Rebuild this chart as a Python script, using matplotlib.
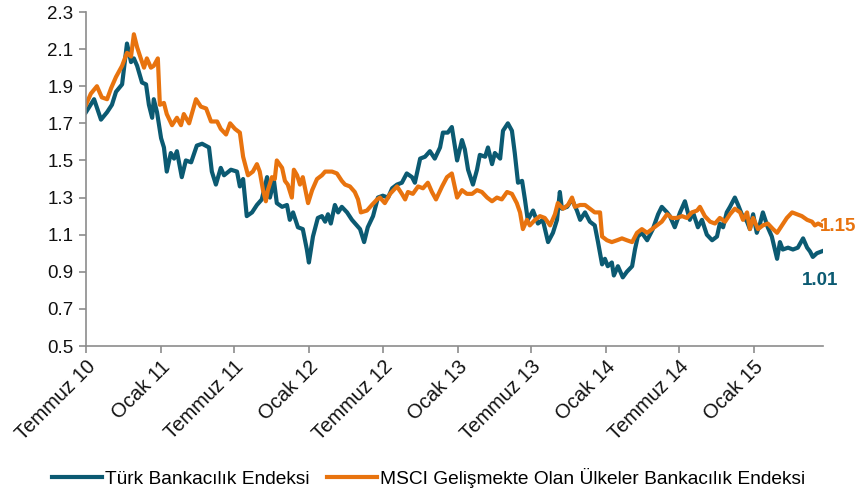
import pandas as pd
import matplotlib
matplotlib.use("Agg")
import matplotlib.pyplot as plt

plt.rcParams['font.family'] = ['Liberation Sans', 'DejaVu Sans']

# days counted from 1 July 2010, values are normalised index levels
start = pd.Timestamp('2010-07-01')

turk_days = [0, 20, 37, 52, 64, 74, 89, 101, 111, 118, 126, 138, 148, 155, 163, 167, 175,
             185, 192, 199, 209, 217, 224, 236, 246, 259, 273, 286, 303, 310, 320, 332, 340,
             357, 372, 379, 387, 396, 409, 421, 433, 446, 453, 463, 470, 483, 495, 502, 510,
             522, 534, 544, 549, 559, 571, 581, 589, 596, 603, 613, 621, 630, 643, 655, 667,
             675, 685, 694, 707, 719, 731, 744, 754, 766, 778, 790, 803, 810, 823, 835, 847,
             859, 872, 879, 891, 901, 914, 926, 933, 941, 953, 963, 970, 983, 990, 1000, 1007,
             1020, 1027, 1039, 1049, 1056, 1064, 1074, 1081, 1088, 1101, 1113, 1125, 1138,
             1150, 1160, 1167, 1172, 1185, 1197, 1209, 1217, 1229, 1241, 1253, 1261, 1271,
             1278, 1285, 1295, 1300, 1310, 1322, 1332, 1345, 1352, 1359, 1369, 1382, 1389,
             1396, 1409, 1418, 1431, 1438, 1450, 1463, 1475, 1487, 1495, 1507, 1517, 1529,
             1542, 1554, 1561, 1569, 1578, 1586, 1598, 1606, 1615, 1628, 1635, 1643, 1652,
             1660, 1667, 1679, 1689, 1702, 1709, 1716, 1729, 1741, 1753, 1766, 1776, 1783,
             1790, 1800, 1812]
turk_vals = [1.76, 1.83, 1.72, 1.76, 1.80, 1.87, 1.91, 2.13, 2.03, 2.05, 2.01, 1.92, 1.91,
             1.80, 1.73, 1.83, 1.76, 1.62, 1.57, 1.44, 1.54, 1.51, 1.55, 1.41, 1.50, 1.49,
             1.58, 1.59, 1.57, 1.44, 1.37, 1.46, 1.42, 1.45, 1.44, 1.36, 1.40, 1.20, 1.22,
             1.26, 1.29, 1.41, 1.30, 1.39, 1.27, 1.25, 1.26, 1.18, 1.22, 1.14, 1.13, 1.02,
             0.95, 1.09, 1.19, 1.20, 1.17, 1.21, 1.16, 1.26, 1.22, 1.25, 1.22, 1.18, 1.15,
             1.13, 1.06, 1.14, 1.20, 1.30, 1.31, 1.30, 1.35, 1.37, 1.38, 1.43, 1.41, 1.38,
             1.51, 1.52, 1.55, 1.51, 1.57, 1.65, 1.65, 1.68, 1.50, 1.61, 1.56, 1.45, 1.37,
             1.45, 1.53, 1.52, 1.57, 1.48, 1.54, 1.51, 1.66, 1.70, 1.66, 1.54, 1.38, 1.39,
             1.29, 1.18, 1.23, 1.16, 1.18, 1.06, 1.11, 1.18, 1.33, 1.24, 1.25, 1.29, 1.23,
             1.18, 1.22, 1.17, 1.15, 1.06, 0.94, 0.97, 0.93, 0.95, 0.88, 0.93, 0.87, 0.90,
             0.93, 1.02, 1.09, 1.11, 1.07, 1.10, 1.13, 1.21, 1.25, 1.22, 1.20, 1.14, 1.22,
             1.28, 1.18, 1.22, 1.14, 1.18, 1.10, 1.07, 1.09, 1.16, 1.14, 1.22, 1.25, 1.30,
             1.26, 1.21, 1.17, 1.13, 1.21, 1.11, 1.16, 1.22, 1.14, 1.09, 0.97, 1.06, 1.02,
             1.03, 1.02, 1.03, 1.08, 1.03, 1.01, 0.98, 1.00, 1.01]

msci_days = [0, 12, 27, 39, 52, 62, 74, 89, 101, 111, 118, 126, 135, 143, 150, 160, 167, 177,
             182, 192, 199, 212, 224, 234, 241, 254, 271, 283, 296, 308, 323, 332, 345, 355,
             367, 379, 387, 399, 411, 421, 428, 436, 443, 448, 458, 465, 470, 483, 490, 497,
             507, 512, 520, 527, 534, 547, 557, 569, 581, 589, 606, 618, 630, 638, 650, 662,
             670, 677, 692, 704, 717, 724, 736, 749, 766, 778, 786, 793, 805, 818, 830, 842,
             852, 862, 877, 889, 901, 914, 926, 938, 951, 963, 975, 988, 1000, 1012, 1024,
             1037, 1049, 1061, 1069, 1076, 1086, 1093, 1106, 1118, 1130, 1143, 1155, 1162,
             1175, 1187, 1197, 1204, 1217, 1229, 1241, 1253, 1266, 1271, 1283, 1295, 1308,
             1320, 1332, 1345, 1357, 1369, 1382, 1394, 1406, 1418, 1431, 1443, 1455, 1468,
             1480, 1492, 1505, 1512, 1524, 1537, 1549, 1561, 1574, 1586, 1598, 1611, 1618,
             1628, 1635, 1643, 1655, 1667, 1679, 1692, 1702, 1714, 1726, 1739, 1751, 1763,
             1776, 1788, 1795, 1803, 1812]
msci_vals = [1.80, 1.86, 1.90, 1.84, 1.83, 1.89, 1.95, 2.01, 2.08, 2.06, 2.18, 2.11, 2.05,
             2.00, 2.05, 2.00, 2.01, 2.05, 1.80, 1.81, 1.75, 1.69, 1.73, 1.69, 1.75, 1.70,
             1.83, 1.79, 1.78, 1.71, 1.71, 1.67, 1.64, 1.70, 1.67, 1.65, 1.52, 1.42, 1.44,
             1.48, 1.44, 1.34, 1.28, 1.34, 1.41, 1.40, 1.50, 1.46, 1.39, 1.37, 1.30, 1.45,
             1.42, 1.37, 1.41, 1.27, 1.34, 1.40, 1.42, 1.44, 1.44, 1.43, 1.39, 1.37, 1.36,
             1.33, 1.29, 1.22, 1.23, 1.26, 1.29, 1.30, 1.27, 1.32, 1.36, 1.32, 1.29, 1.33,
             1.32, 1.36, 1.35, 1.38, 1.33, 1.29, 1.36, 1.41, 1.43, 1.30, 1.34, 1.32, 1.32,
             1.34, 1.33, 1.30, 1.28, 1.30, 1.29, 1.33, 1.32, 1.27, 1.22, 1.13, 1.18, 1.15,
             1.18, 1.20, 1.19, 1.15, 1.21, 1.27, 1.24, 1.26, 1.30, 1.25, 1.26, 1.26, 1.24,
             1.22, 1.22, 1.09, 1.07, 1.06, 1.07, 1.08, 1.07, 1.06, 1.11, 1.13, 1.11, 1.13,
             1.15, 1.17, 1.21, 1.19, 1.19, 1.20, 1.19, 1.22, 1.23, 1.25, 1.20, 1.17, 1.16,
             1.19, 1.17, 1.21, 1.24, 1.22, 1.18, 1.22, 1.13, 1.19, 1.13, 1.15, 1.16, 1.13,
             1.11, 1.15, 1.19, 1.22, 1.21, 1.20, 1.18, 1.17, 1.15, 1.16, 1.15]

tick_dates = ['2010-07-01', '2011-01-01', '2011-07-01', '2012-01-01', '2012-07-01',
              '2013-01-01', '2013-07-01', '2014-01-01', '2014-07-01', '2015-01-01']
tick_labels = ['Temmuz 10', 'Ocak 11', 'Temmuz 11', 'Ocak 12', 'Temmuz 12',
               'Ocak 13', 'Temmuz 13', 'Ocak 14', 'Temmuz 14', 'Ocak 15']

turk_color = '#0b5a72'
msci_color = '#e8730e'

turk = pd.Series(turk_vals, index=start + pd.to_timedelta(turk_days, unit='D'))
msci = pd.Series(msci_vals, index=start + pd.to_timedelta(msci_days, unit='D'))

fig = plt.figure(figsize=(8.57, 4.96), dpi=100)
ax = fig.add_axes([0.1003, 0.3024, 0.860, 0.6734])

ax.plot(turk.index, turk.values, color=turk_color, lw=3.0, solid_joinstyle='round',
        label='Türk Bankacılık Endeksi')
ax.plot(msci.index, msci.values, color=msci_color, lw=3.0, solid_joinstyle='round',
        label='MSCI Gelişmekte Olan Ülkeler Bankacılık Endeksi')

ax.set_ylim(0.5, 2.3)
ax.set_yticks([0.5 + 0.2 * i for i in range(10)])
ax.yaxis.set_major_formatter(plt.FormatStrFormatter('%.1f'))
ax.set_xlim(start, start + pd.Timedelta(days=1815))
ax.set_xticks(pd.to_datetime(tick_dates))
ax.set_xticklabels(tick_labels, rotation=45, ha='right', rotation_mode='anchor')

for side in ['top', 'right']:
    ax.spines[side].set_visible(False)
for side in ['left', 'bottom']:
    ax.spines[side].set_color('#8c8c8c')
    ax.spines[side].set_linewidth(1.2)
ax.tick_params(axis='both', colors='#8c8c8c', labelcolor='#111111', labelsize=13.5,
               length=5, width=1.2, direction='out')
ax.tick_params(axis='x', pad=3, labelsize=14.5)
ax.tick_params(axis='y', pad=4)

# end-of-series labels
ax.annotate('{:.2f}'.format(msci.values[-1]), (msci.index[-1], msci.values[-1]),
            xytext=(-1, -1), textcoords='offset points', ha='left', va='center',
            color=msci_color, fontsize=13.5, fontweight='bold', annotation_clip=False)
ax.annotate('{:.2f}'.format(turk.values[-1]), (turk.index[-1], turk.values[-1]),
            xytext=(-14, -21), textcoords='offset points', ha='left', va='center',
            color=turk_color, fontsize=13.5, fontweight='bold', annotation_clip=False)

fig.legend(loc='center', bbox_to_anchor=(0.5, 0.036), ncol=2, frameon=False,
           fontsize=13.8, handlelength=2.6, columnspacing=0.9, handletextpad=0.15)

fig.savefig('out.png', dpi=100)
